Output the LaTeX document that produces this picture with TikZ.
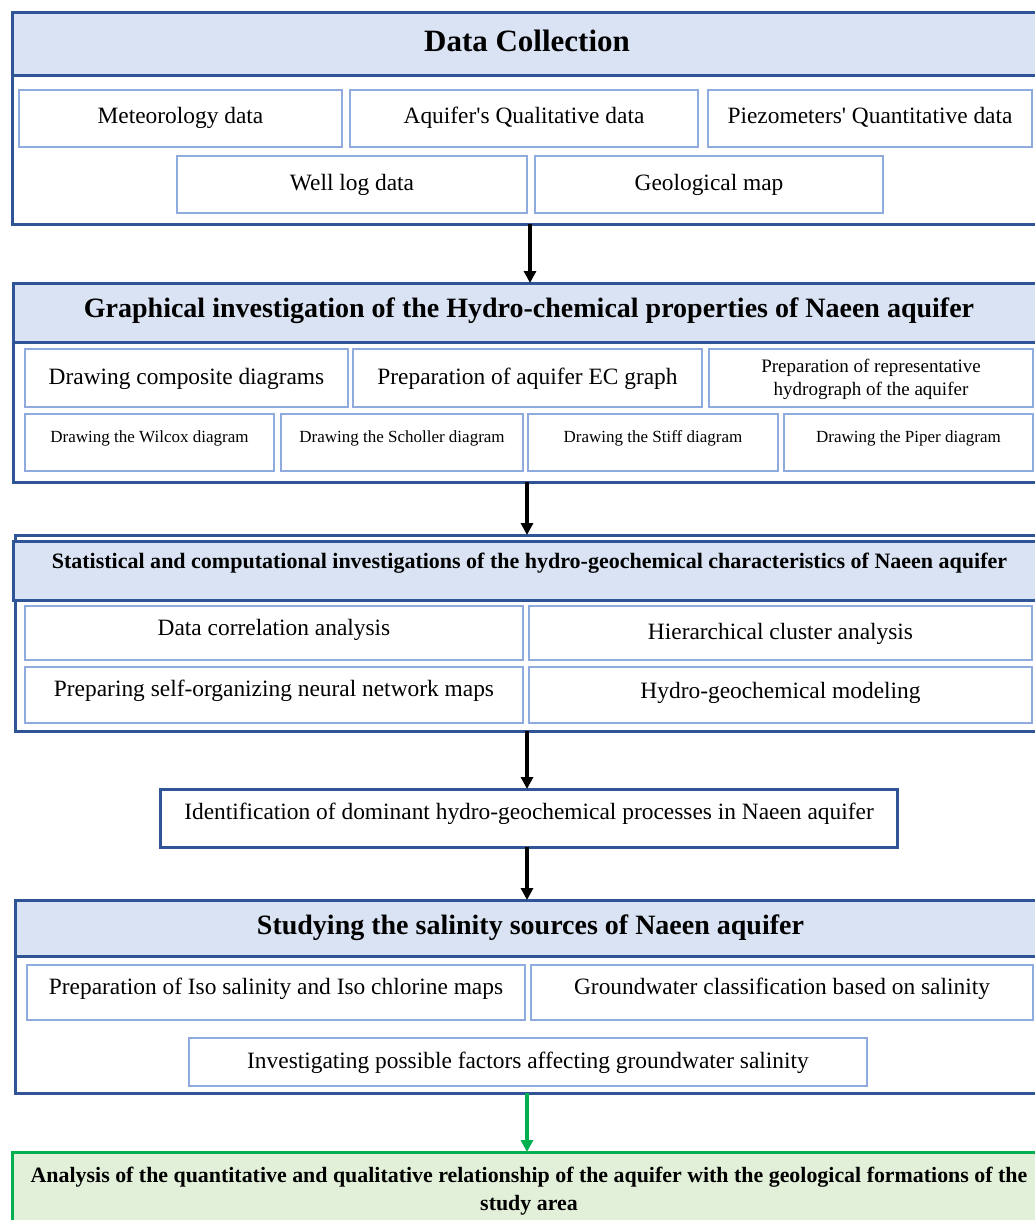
\documentclass[tikz,border=0pt]{standalone}
\usepackage{fontspec}
\setmainfont{Liberation Serif}[Ligatures=TeXOff]
\usetikzlibrary{arrows.meta}
\definecolor{dkblue}{HTML}{2F5597}
\definecolor{hdfill}{HTML}{DAE3F3}
\definecolor{bxline}{HTML}{8FAADC}
\definecolor{grn}{HTML}{00B050}
\definecolor{grnfill}{HTML}{E2F0D9}
\newcommand\bx[6]{\node[#6, inner sep=0pt, outer sep=0pt, minimum width={#4-#2}, minimum height={#5-#3}] (#1) at ({(#2+#4)/2},{(#3+#5)/2}) {};}
\newcommand\tx[5]{\node[anchor=base, inner sep=0pt, font=#4] (#1) at (#2,#3) {#5};}
\newcommand\fT{\fontsize{31}{36}\selectfont\bfseries}
\newcommand\fH{\fontsize{28}{33}\selectfont\bfseries}
\newcommand\fS{\fontsize{22}{26}\selectfont\bfseries}
\newcommand\fB{\fontsize{23.4}{28}\selectfont}
\newcommand\fM{\fontsize{19}{23}\selectfont}
\newcommand\fR{\fontsize{17}{21}\selectfont}
\newcommand\fG{\fontsize{21.9}{26}\selectfont\bfseries}
\tikzset{
  frame/.style={draw=dkblue, line width=3pt, fill=white},
  head/.style={draw=dkblue, line width=3pt, fill=hdfill},
  ibox/.style={draw=bxline, line width=2pt, fill=white},
  dbox/.style={draw=dkblue, line width=3pt, fill=white},
  gbox/.style={draw=grn, line width=3pt, fill=grnfill},
  arr/.style={black, line width=3.2pt, -{Triangle[length=12pt,width=12pt]}},
  garr/.style={grn, line width=3.2pt, -{Triangle[length=12pt,width=12pt]}},
}
\begin{document}
\begin{tikzpicture}[x=1pt,y=-1pt]
\clip (0,0) rectangle (1035,1220);
\useasboundingbox (0,0) rectangle (1035,1220);
\fill[white] (0,0) rectangle (1035,1220);
% Block 1
\bx{f1}{12}{13}{1040}{224}{frame}
\bx{h1}{12}{13}{1040}{76}{head}
\tx{t1}{527}{52}{\fT}{Data Collection}
\bx{m1}{19}{90}{342}{147}{ibox}
\bx{m2}{350}{90}{698}{147}{ibox}
\bx{m3}{708}{90}{1032}{147}{ibox}
\bx{m4}{177}{156}{527}{213}{ibox}
\bx{m5}{535}{156}{883}{213}{ibox}
\tx{tm1}{180.5}{124}{\fB}{Meteorology data}
\tx{tm2}{524}{124}{\fB}{Aquifer's Qualitative data}
\tx{tm3}{870}{124}{\fB}{Piezometers' Quantitative data}
\tx{tm4}{352}{190}{\fB}{Well log data}
\tx{tm5}{709}{190}{\fB}{Geological map}
% Block 2
\bx{f2}{13}{283}{1040}{482}{frame}
\bx{h2}{13}{283}{1040}{342}{head}
\tx{t2}{529}{317}{\fH}{Graphical investigation of the Hydro-chemical properties of Naeen aquifer}
\bx{n1}{25}{349}{348}{407}{ibox}
\bx{n2}{353}{349}{702}{407}{ibox}
\bx{n3}{709}{349}{1033}{407}{ibox}
\bx{n4}{25}{414}{274}{471}{ibox}
\bx{n5}{281}{414}{523}{471}{ibox}
\bx{n6}{528}{414}{778}{471}{ibox}
\bx{n7}{784}{414}{1033}{471}{ibox}
\tx{tn1}{186.5}{384}{\fB}{Drawing composite diagrams}
\tx{tn2}{527.5}{384}{\fB}{Preparation of aquifer EC graph}
\tx{tn3a}{871}{372}{\fM}{Preparation of representative}
\tx{tn3b}{871}{395}{\fM}{hydrograph of the aquifer}
\tx{tn4}{149.5}{442}{\fR}{Drawing the Wilcox diagram}
\tx{tn5}{402}{442}{\fR}{Drawing the Scholler diagram}
\tx{tn6}{653}{442}{\fR}{Drawing the Stiff diagram}
\tx{tn7}{908.5}{442}{\fR}{Drawing the Piper diagram}
% Block 3
\bx{f3}{15}{535}{1040}{731}{frame}
\bx{h3}{13}{541}{1040}{600}{head}
\tx{t3}{529.5}{568}{\fS}{Statistical and computational investigations of the hydro-geochemical characteristics of Naeen aquifer}
\bx{s1}{25}{606}{523}{660}{ibox}
\bx{s2}{529}{606}{1032}{660}{ibox}
\bx{s3}{25}{667}{523}{723}{ibox}
\bx{s4}{529}{667}{1032}{723}{ibox}
\tx{ts1}{274}{635}{\fB}{Data correlation analysis}
\tx{ts2}{780.5}{639}{\fB}{Hierarchical cluster analysis}
\tx{ts3}{274}{696}{\fB}{Preparing self-organizing neural network maps}
\tx{ts4}{780.5}{698}{\fB}{Hydro-geochemical modeling}
% Box 4
\bx{b4}{160}{789}{897}{847}{dbox}
\tx{tb4}{529}{819}{\fB}{Identification of dominant hydro-geochemical processes in Naeen aquifer}
% Block 5
\bx{f5}{15}{900}{1040}{1093}{frame}
\bx{h5}{15}{900}{1040}{956}{head}
\tx{t5}{530.5}{934}{\fH}{Studying the salinity sources of Naeen aquifer}
\bx{r1}{27}{965}{525}{1020}{ibox}
\bx{r2}{531}{965}{1033}{1020}{ibox}
\bx{r3}{189}{1038}{867}{1086}{ibox}
\tx{tr1}{276}{994}{\fB}{Preparation of Iso salinity and Iso chlorine maps}
\tx{tr2}{782}{994}{\fB}{Groundwater classification based on salinity}
\tx{tr3}{528}{1068}{\fB}{Investigating possible factors affecting groundwater salinity}
% Box 6
\bx{g6}{12}{1152}{1040}{1230}{gbox}
\tx{tg6a}{529}{1182}{\fG}{Analysis of the quantitative and qualitative relationship of the aquifer with the geological formations of the}
\tx{tg6b}{529}{1210}{\fG}{study area}
% Arrows
\coordinate (xa) at (530,0);
\coordinate (xb) at (527,0);
\draw[arr] (xa |- f1.south) -- (xa |- f2.north);
\draw[arr] (xb |- f2.south) -- (xb |- f3.north);
\draw[arr] (xb |- f3.south) -- (xb |- b4.north);
\draw[arr] (xb |- b4.south) -- (xb |- f5.north);
\draw[garr] (xb |- f5.south) -- (xb |- g6.north);
\end{tikzpicture}
\end{document}
